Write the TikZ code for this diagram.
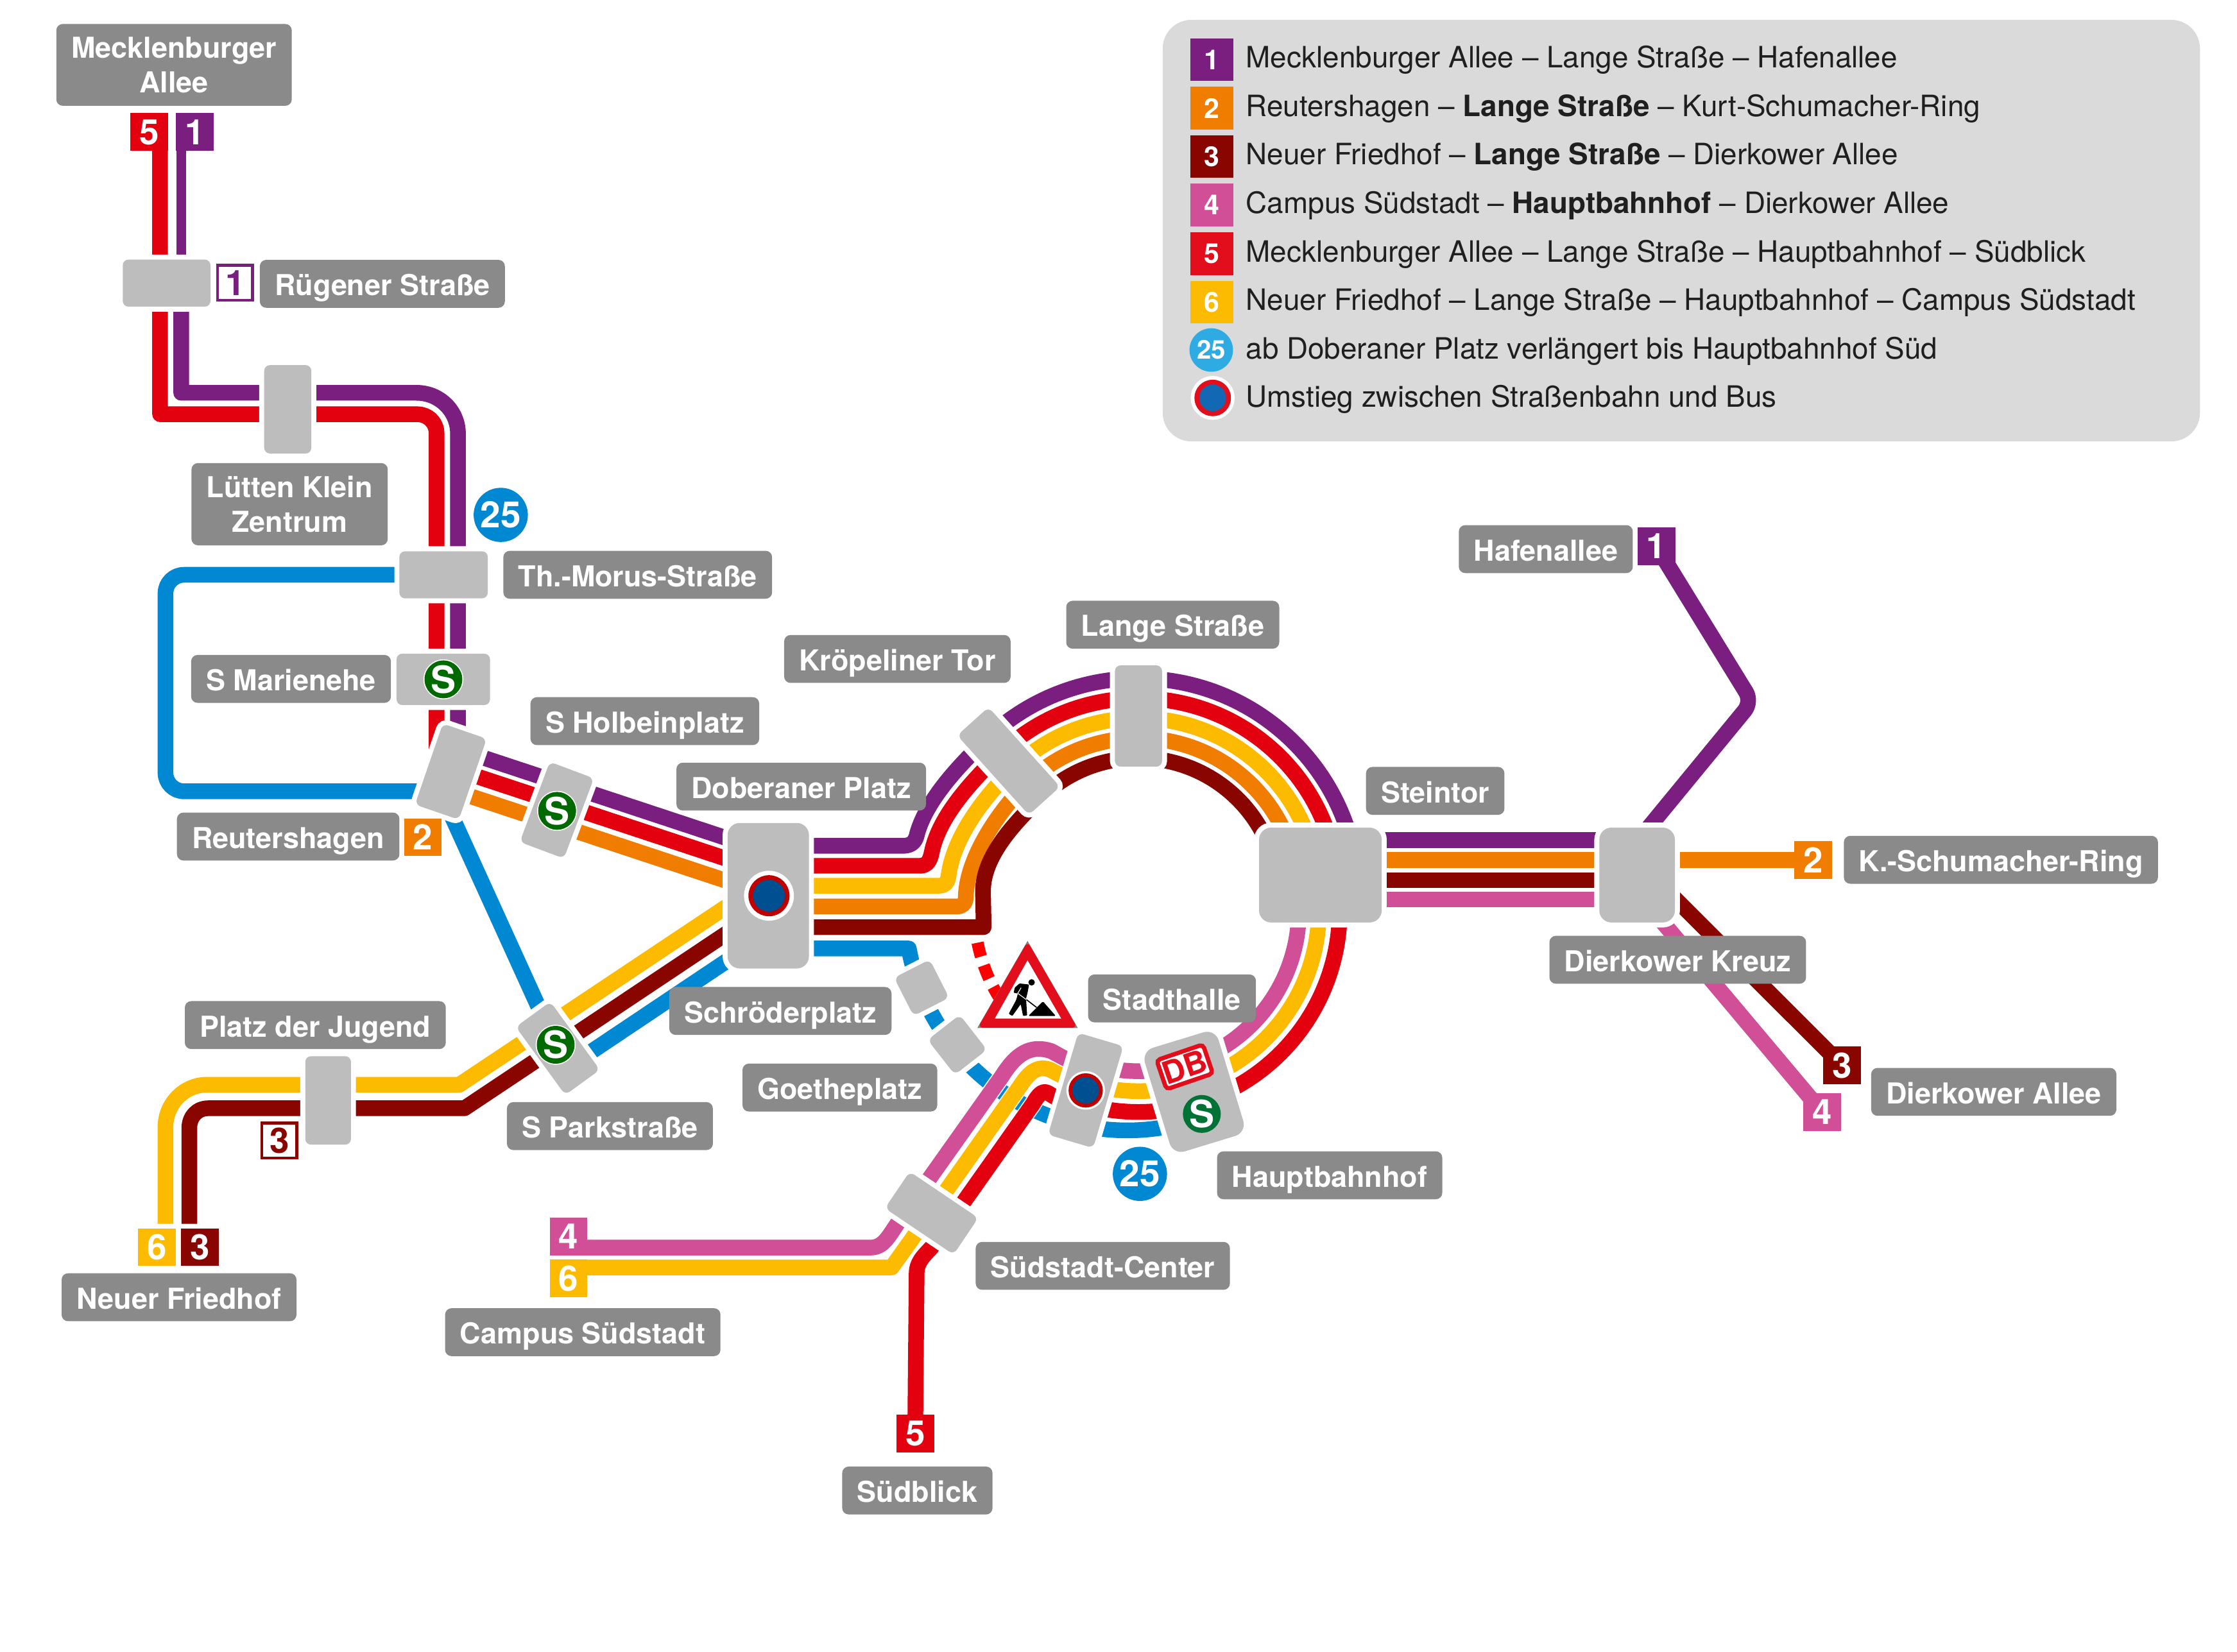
\documentclass[tikz,border=0pt]{standalone}
\usepackage{fontspec}
\setmainfont{TeX Gyre Heros}
\usetikzlibrary{backgrounds}
\definecolor{linepurple}{HTML}{7A1E80}
\definecolor{linered}{HTML}{E3000F}
\definecolor{lineorange}{HTML}{F07C00}
\definecolor{linedark}{HTML}{880500}
\definecolor{linepink}{HTML}{D14F96}
\definecolor{lineyellow}{HTML}{FDBB00}
\definecolor{lineblue}{HTML}{0089D2}
\definecolor{stopgray}{HTML}{BDBDBD}
\definecolor{labelgray}{HTML}{8A8A8A}
\definecolor{legendgray}{HTML}{DADADA}
\definecolor{signred}{HTML}{E30E1C}
\definecolor{sgreen}{HTML}{006A00}
\definecolor{dbgreen}{HTML}{007236}
\definecolor{busblue}{HTML}{004F91}
\definecolor{busred}{HTML}{C00000}
\definecolor{keyblue}{HTML}{1268B3}
\definecolor{keysky}{HTML}{2FABE3}
\tikzset{
  rail/.style={line width=2.2mm,line join=round},
  cased/.style={preaction={draw=white,line width=2.5mm}},
  stopbox/.style={rectangle,fill=stopgray,rounded corners=.8mm,inner sep=0,preaction={draw=white,line width=1.4mm}},
  stopbig/.style={stopbox,rounded corners=1.7mm},
  stoplabel/.style={rectangle,fill=labelgray,text=white,rounded corners=.9mm,inner xsep=2.1mm,inner ysep=0,
    font=\fontsize{11.5}{13.9}\selectfont\bfseries,text height=5mm,text depth=1.72mm},
  stoplabeltwo/.style={rectangle,fill=labelgray,text=white,rounded corners=.9mm,inner xsep=2.1mm,inner ysep=1.8mm,
    font=\fontsize{11.5}{13.9}\selectfont\bfseries,align=center},
  linebadge/.style={rectangle,fill=#1,text=white,minimum size=5.3mm,inner sep=0,font=\fontsize{14}{14}\selectfont\bfseries},
  hollowbadge/.style={rectangle,fill=white,draw=#1,line width=.4mm,text=#1,minimum size=4.9mm,inner sep=0,font=\fontsize{14}{14}\selectfont\bfseries},
  legendbadge/.style={rectangle,fill=#1,text=white,minimum size=6mm,inner sep=0,font=\fontsize{11}{11}\selectfont\bfseries},
  legendtext/.style={anchor=base west,inner sep=0,text=black!88,font=\fontsize{11.73}{13}\selectfont},
  roundbadge/.style={circle,fill=lineblue,text=white,minimum size=7.6mm,inner sep=0,font=\fontsize{14.5}{14.5}\selectfont\bfseries},
  sbahn/.style={circle,fill=#1,text=white,minimum size=5.3mm,inner sep=0,font=\fontsize{15}{15}\selectfont\bfseries},
  transfer/.style n args={5}{circle,fill=#4,draw=#5,minimum size=#1,line width=#2,inner sep=0,preaction={draw=white,line width=#3}}
}
\begin{document}
\begin{tikzpicture}[x=.2mm,y=-.2mm]
\useasboundingbox (0,0) rectangle (1568,1158);
\coordinate (ringlow) at (798,638.6);

\node[stopbox,minimum width=12.3mm,minimum height=6.6mm] (stRuegen) at (116.8,198.5) {};
\node[stopbox,minimum width=6.6mm,minimum height=12.4mm] (stLuetten) at (201.7,287) {};
\node[stopbox,minimum width=12.4mm,minimum height=6.6mm] (stMorus) at (310.9,403) {};
\node[stopbox,minimum width=13.1mm,minimum height=7.2mm] (stMarienehe) at (310.7,476.3) {};
\node[stopbox,rotate=-19,minimum width=6.5mm,minimum height=12mm] (stReuter) at (316,541) {};
\node[stopbox,rotate=-20.5,minimum width=6.6mm,minimum height=12mm] (stHolbein) at (390.3,568) {};
\node[stopbig,minimum width=11.4mm,minimum height=20.4mm] (stDoberan) at (538.5,628) {};
\node[stopbox,rotate=42,minimum width=5.9mm,minimum height=15mm] (stKroepelin) at (707,533.6) {};
\node[stopbox,minimum width=6.6mm,minimum height=14.2mm] (stLange) at (798,502) {};
\node[stopbig,minimum width=17.2mm,minimum height=13.3mm] (stStein) at (925.5,613.5) {};
\node[stopbig,minimum width=10.6mm,minimum height=13.3mm] (stDierkow) at (1147.5,613.5) {};
\node[stopbox,rotate=36,minimum width=6mm,minimum height=11.8mm] (stPark) at (391,735) {};
\node[stopbox,minimum width=6.4mm,minimum height=12.4mm] (stJugend) at (230,771.5) {};
\node[stopbox,rotate=27,minimum width=5.6mm,minimum height=6mm] (stSchroeder) at (646,692.5) {};
\node[stopbox,rotate=38,minimum width=5.7mm,minimum height=6.2mm] (stGoethe) at (671,732.5) {};
\node[stopbox,rotate=-16.5,minimum width=6.6mm,minimum height=14.9mm] (stHalle) at (761,764.5) {};
\node[stopbig,rotate=17,minimum width=10.8mm,minimum height=15.2mm] (stHbf) at (837,765.5) {};
\node[stopbox,rotate=-34,minimum width=11.6mm,minimum height=6.2mm] (stCenter) at (653,850.5) {};

\node[linebadge=linered] (bRedTop) at (104.5,92.6) {5};
\node[linebadge=linepurple] (bPurpleTop) at (136.7,92.6) {1};
\node[linebadge=linepurple] (bHafen) at (1161,383) {1};
\node[linebadge=lineorange] (bReuter) at (296.4,587) {2};
\node[linebadge=lineorange] (bKSR) at (1271,603) {2};
\node[linebadge=linedark] (bDarkEast) at (1291.2,747) {3};
\node[linebadge=linepink] (bPinkEast) at (1277.3,779.7) {4};
\node[linebadge=lineyellow] (bYellowWest) at (110,874.4) {6};
\node[linebadge=linedark] (bDarkWest) at (140.2,874.4) {3};
\node[linebadge=linepink] (bPinkSouth) at (398.5,866.8) {4};
\node[linebadge=lineyellow] (bYellowSouth) at (398.5,896.3) {6};
\node[linebadge=linered] (bRedSouth) at (641.5,1005) {5};
\node[hollowbadge=linepurple] (bRuegen) at (164.8,198.2) {1};
\node[hollowbadge=linedark] (bJugend) at (195.8,799.6) {3};

\begin{scope}[on background layer]
\draw[rail,lineblue,rounded corners=2.6mm] (stMorus.center)--(116,403)--(116,554.8)--(305,554.8);
\draw[rail,lineblue] (312,562)--(392,738); \draw[rail,lineblue] (400,747)--(515,670);
\draw[rail,lineblue] (stDoberan.center |- 0,665)--(637,665) arc[start angle=190.4,end angle=290,radius=31.12mm];
\draw[red,line width=1.7mm,dash pattern=on 2mm off 1.3mm] ([shift={(191.2:23mm)}]ringlow) arc[start angle=191.2,end angle=222,radius=23mm];

\draw[rail,linered] (112.2,105)--(112.2,290.4)--(292,290.4) .. controls (300,290.4) and (306,296) .. (306,304)--(306,530);
\draw[line width=1.38mm,linepurple] (127,105)--(127,180);
\draw[rail,linepurple] (127,205)--(127,275.4)--(292,275.4) .. controls (308,275.4) and (321,288) .. (321,304)--(321,525);

\draw[rail,linepurple] (320,525)--(530,594.5); \draw[rail,linered] (320,539.6)--(530,609); \draw[rail,lineorange] (320,555)--(530,624.5);

\draw[rail,linepurple] (530,593)--(633,593) .. controls (640,593) and (642,589) .. (643,584) .. controls (650,560) and (672.7,536.3) .. (690.7,518.9) arc[start angle=134,end angle=15,radius=30.88mm];
\draw[rail,linered] (530,607)--(645,607) .. controls (650,607) and (652,603) .. (653,598) .. controls (658,572) and (682.4,546.4) .. (700.4,529) arc[start angle=134,end angle=15,radius=28.1mm];
\draw[rail,lineyellow] (530,621)--(658,621) .. controls (663,621) and (664.5,618) .. (665,613) .. controls (669,585) and (692,556.4) .. (710.1,539) arc[start angle=134,end angle=15,radius=25.3mm];
\draw[rail,lineorange] (530,635.5)--(671,635.5) .. controls (675,635.5) and (677,633) .. (677,628) .. controls (678,600) and (701.8,566.5) .. (719.8,549.1) arc[start angle=134,end angle=15,radius=22.5mm];
\draw[rail,linedark] (530,650)--(689.5,650)--(689,625) .. controls (689,600) and (711.6,576.5) .. (729.6,559.1) arc[start angle=134,end angle=15,radius=19.7mm];

\draw[rail,lineyellow] (116,858)--(116,790) .. controls (116,774) and (129,760.5) .. (145,760.5)--(322,760.5)--(515,631.8);
\draw[rail,linedark] (132.7,858)--(132.7,791) .. controls (132.7,783) and (138,777) .. (146,777)--(325.6,777)--(515,650.6);

\draw[rail,linepink] ([shift={(256:22.48mm)}]ringlow) arc[start angle=256,end angle=365,radius=22.48mm];
\draw[rail,lineyellow] ([shift={(256:25.28mm)}]ringlow) arc[start angle=256,end angle=365,radius=25.28mm];
\draw[rail,linered] ([shift={(256:28.2mm)}]ringlow) arc[start angle=256,end angle=365,radius=28.2mm];

\draw[rail,cased,linepink] (bPinkSouth.center |- 0,874.7)--(610,874.7) .. controls (620,874.7) and (623,866) .. (630.7,855.5)--(702,755) .. controls (712,739) and (722,732) .. (737,737)--(747,742.5)--(770.8,747.6);
\draw[rail,cased,lineyellow] (bYellowSouth.center |- 0,888.6)--(625,888.6)--(639.3,868.6)--(716,760) .. controls (722,751) and (728,747) .. (736,750)--(747,755.6)--(767.4,761.2);
\draw[rail,cased,linered] (bRedSouth.center)--(642.5,893) .. controls (642.5,885) and (647,881) .. (653,874.5)--(724,774) .. controls (728,767) and (731,764) .. (735,766.5)--(739,769)--(763.9,775.4);

\draw[rail,linepurple] (930,589)--(1150,589); \draw[rail,lineorange] (930,603)--(stDierkow |- bKSR)--(bKSR.center);
\draw[rail,linedark] (930,617)--(1150,617); \draw[rail,linepink] (930,630.7)--(1150,630.7);
\draw[rail,linepurple,rounded corners=1.6mm] (bHafen.center)--(1228,492)--(1145,593);
\draw[rail,linedark] (1150,606)--(bDarkEast.center); \draw[rail,linepink] (1154,633)--(bPinkEast.center);
\end{scope}

\node[transfer={5.12mm}{.64mm}{1.88mm}{busblue}{busred}] (busDoberan) at (539,628) {};
\node[transfer={4.28mm}{.52mm}{1.12mm}{busblue}{busred}] (busHalle) at (761,764.5) {};
\node[sbahn=sgreen,preaction={draw=white,line width=.3mm}] (sMarienehe) at (310.8,476.3) {S};
\node[sbahn=sgreen,preaction={draw=white,line width=.3mm}] (sHolbein) at (390.5,568.5) {S};
\node[sbahn=sgreen,preaction={draw=white,line width=.3mm}] (sPark) at (389.5,732.5) {S};
\node[sbahn=dbgreen] (sHbf) at (842.4,781) {S};
\node[rectangle,rotate=18.8,fill=white,draw=signred,line width=.6mm,rounded corners=.5mm,minimum width=6.86mm,minimum height=4.3mm,inner sep=0,text=signred,font=\fontsize{12.5}{12.5}\selectfont\bfseries] (dbLogo) at (830.4,748) {DB};
\node[roundbadge] (bTramNorth) at (351,361) {25};
\node[roundbadge] (bTramSouth) at (799,823) {25};

\begin{scope}[shift={(683.8,656.8)},x=.03mm,y=-.03mm]
\draw[fill=signred,draw=signred,line width=.78mm,line join=round,preaction={draw=gray,line width=.86mm}] (243,48)--(33,412)--(453,412)--cycle;
\fill[white] (243,110)--(90,382)--(400,382)--cycle;
\fill (262,213) circle[radius=.45mm];
\fill[rounded corners=.1mm] (205,218)--(250,223)--(243,262)--(236,288)--(241,368)--(222,370)--(211,315)--(172,370)--(155,360)--(190,295)--(198,265)--(178,262)--(183,238)--cycle;
\draw[white,line width=.1mm] (213,238)--(197,264)--(238,294);
\draw[line width=.15mm] (238,294)--(285,330);
\fill[rounded corners=.15mm] (247,370)--(315,302)--(375,370)--cycle;
\end{scope}

\node[stoplabeltwo] (laMeck) at (122,45.5) {Mecklenburger\\Allee};
\node[stoplabeltwo] (laLuetten) at (203,353.5) {Lütten Klein\\Zentrum};
\node[stoplabel] (laRuegen) at (268,199) {Rügener Straße};
\node[stoplabel] (laMorus) at (447,403) {Th.-Morus-Straße};
\node[stoplabel] (laMarienehe) at (204,476) {S Marienehe};
\node[stoplabel] (laHolbein) at (452,505.6) {S Holbeinplatz};
\node[stoplabel] (laReuter) at (202,586.5) {Reutershagen};
\node[stoplabel] (laDoberan) at (561.6,551.5) {Doberaner Platz};
\node[stoplabel] (laKroepelin) at (629,462) {Kröpeliner Tor};
\node[stoplabel] (laLange) at (822,438) {Lange Straße};
\node[stoplabel] (laStein) at (1006,554.5) {Steintor};
\node[stoplabel] (laHafen) at (1083.5,385) {Hafenallee};
\node[stoplabel] (laKSR) at (1402.5,602.8) {K.-Schumacher-Ring};
\node[stoplabel] (laKreuz) at (1176,672.9) {Dierkower Kreuz};
\node[stoplabel] (laDierkow) at (1397.5,765.5) {Dierkower Allee};
\node[stoplabel] (laSchroeder) at (547,708.8) {Schröderplatz};
\node[stoplabel] (laHalle) at (821.5,700) {Stadthalle};
\node[stoplabel] (laGoethe) at (588.7,762.5) {Goetheplatz};
\node[stoplabel] (laJugend) at (221,718.7) {Platz der Jugend};
\node[stoplabel] (laPark) at (427.5,789.5) {S Parkstraße};
\node[stoplabel] (laHbf) at (932,824) {Hauptbahnhof};
\node[stoplabel] (laCenter) at (773,887.5) {Südstadt-Center};
\node[stoplabel] (laFriedhof) at (125.5,909.5) {Neuer Friedhof};
\node[stoplabel] (laCampus) at (408.5,934) {Campus Südstadt};
\node[stoplabel] (laSuedblick) at (643,1045) {Südblick};

\node[rectangle,fill=legendgray,rounded corners=4mm,minimum width=145.4mm,minimum height=59.1mm] (legend) at (1178.5,161.7) {};
\node[legendbadge=linepurple] (key1) at (849.4,41.8) {1};
\node[legendbadge=lineorange] (key2) at (849.4,75.8) {2};
\node[legendbadge=linedark] (key3) at (849.4,109.8) {3};
\node[legendbadge=linepink] (key4) at (849.4,143.8) {4};
\node[legendbadge=signred] (key5) at (849.4,177.8) {5};
\node[legendbadge=lineyellow] (key6) at (849.4,211.8) {6};
\node[circle,fill=keysky,text=white,minimum size=6.1mm,inner sep=0,font=\fontsize{10.3}{10.3}\selectfont\bfseries] (key25) at (849,245.4) {25};
\node[transfer={4.44mm}{.68mm}{1.72mm}{keyblue}{signred}] (keyBus) at (850,279) {};
\node[legendtext] (keytext1) at (873,47.6) {Mecklenburger Allee – Lange Straße – Hafenallee};
\node[legendtext] (keytext2) at (873,81.6) {Reutershagen – \textbf{Lange Straße} – Kurt-Schumacher-Ring};
\node[legendtext] (keytext3) at (873,115.6) {Neuer Friedhof – \textbf{Lange Straße} – Dierkower Allee};
\node[legendtext] (keytext4) at (873,149.6) {Campus Südstadt – \textbf{Hauptbahnhof} – Dierkower Allee};
\node[legendtext] (keytext5) at (873,183.6) {Mecklenburger Allee – Lange Straße – Hauptbahnhof – Südblick};
\node[legendtext] (keytext6) at (873,217.6) {Neuer Friedhof – Lange Straße – Hauptbahnhof – Campus Südstadt};
\node[legendtext] (keytext25) at (873,251.6) {ab Doberaner Platz verlängert bis Hauptbahnhof Süd};
\node[legendtext] (keytextBus) at (873,285.6) {Umstieg zwischen Straßenbahn und Bus};
\end{tikzpicture}
\end{document}
